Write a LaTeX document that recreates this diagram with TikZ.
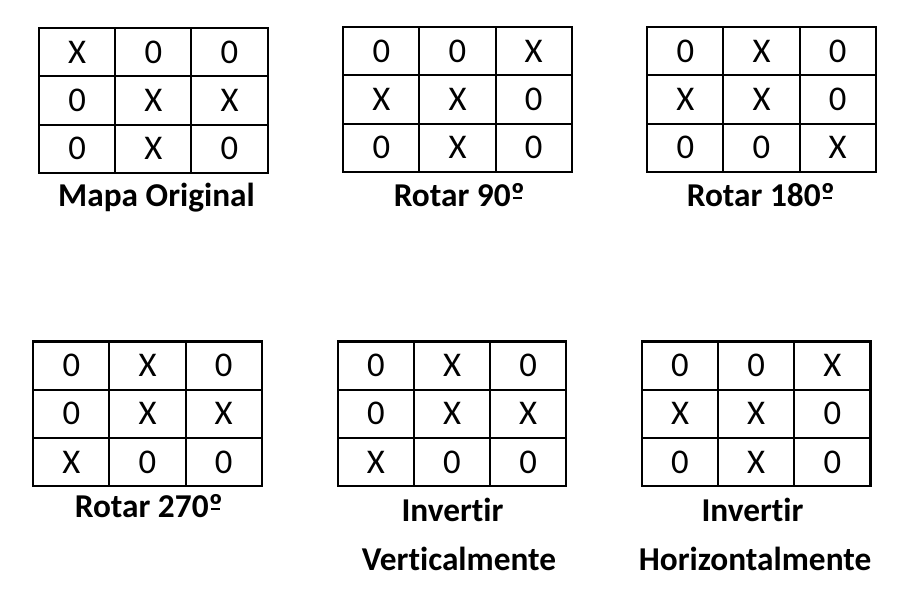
\documentclass[tikz,border=0pt]{standalone}
\usepackage{fontspec}
\setmainfont[Ligatures=NoCommon]{Carlito}
\usetikzlibrary{matrix}
\usetikzlibrary{positioning}

% degree sign with the bar under it
\newcommand{\gradsym}{\ooalign{º\cr\hidewidth\rule[0.2em]{0.27em}{0.07em}\hidewidth\cr}}

\begin{document}
\begin{tikzpicture}[x=0.75pt,y=-0.75pt,
      cell style/.style={rectangle,draw=black,line width=1.6pt,minimum
        width=57.15pt,minimum height=36.15pt,inner sep=0pt,outer sep=0pt,
        font=\fontsize{26}{30}\selectfont},
      map style/.style={matrix of nodes,nodes={cell style},column sep=-1.6pt,
        row sep=-1.6pt,inner sep=0pt,anchor=center},
      label style/.style={anchor=base,inner sep=0pt,
        font=\bfseries\fontsize{25}{29}\selectfont}
      ]
      \useasboundingbox (0,0) rectangle (920,600);

      % first row of maps
      \matrix[map style] (orig) at (153.3,100.5) {
        X & 0 & 0 \\
        0 & X & X \\
        0 & X & 0 \\
      };
      \matrix[map style] (rot90) at (457.5,99.5) {
        0 & 0 & X \\
        X & X & 0 \\
        0 & X & 0 \\
      };
      \matrix[map style] (rot180) at (761.5,99.5) {
        0 & X & 0 \\
        X & X & 0 \\
        0 & 0 & X \\
      };

      \node[label style] (lorig) at (156.5,206) {Mapa Original};
      \node[label style] (lrot90) at (459.5,206) {Rotar 90\gradsym};
      \node[label style] (lrot180) at (761,206) {Rotar 180\gradsym};

      % second row of maps
      \matrix[map style] (rot270) at (147.5,413.8) {
        0 & X & 0 \\
        0 & X & X \\
        X & 0 & 0 \\
      };
      \matrix[map style] (invv) at (452,413.8) {
        0 & X & 0 \\
        0 & X & X \\
        X & 0 & 0 \\
      };
      \matrix[map style] (invh) at (756.2,413.8) {
        0 & 0 & X \\
        X & X & 0 \\
        0 & X & 0 \\
      };

      \node[label style] (lrot270) at (149,517) {Rotar 270\gradsym};
      \node[label style] (linvv) at (452.5,521.7) {Invertir};
      \node[label style] (linvv2) at (459,570) {Verticalmente};
      \node[label style] (linvh) at (752.5,521.7) {Invertir};
      \node[label style] (linvh2) at (755,570) {Horizontalmente};

    \end{tikzpicture}
\end{document}
